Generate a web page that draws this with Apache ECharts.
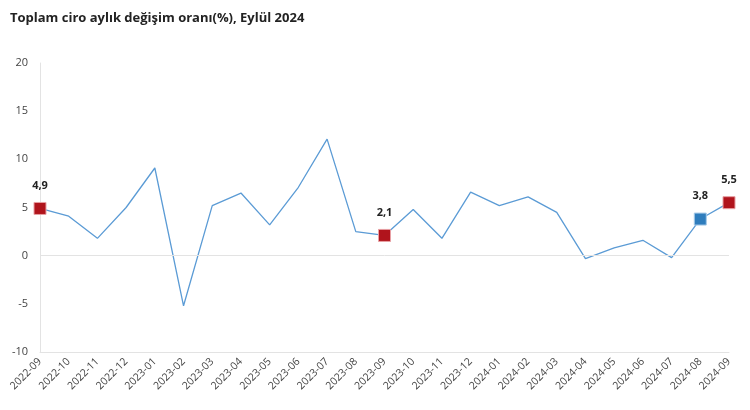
<!DOCTYPE html>
<html><head><meta charset="utf-8">
<script src="https://cdn.jsdelivr.net/npm/echarts@6/dist/echarts.min.js"></script>
<style>html,body{margin:0;padding:0;background:#fff}#c{width:750px;height:410px}</style>
</head><body><div id="c"></div>
<script>
const categories = ["2022-09","2022-10","2022-11","2022-12","2023-01","2023-02","2023-03","2023-04","2023-05","2023-06","2023-07","2023-08","2023-09","2023-10","2023-11","2023-12","2024-01","2024-02","2024-03","2024-04","2024-05","2024-06","2024-07","2024-08","2024-09"];
const values = [4.9,4.1,1.8,5.0,9.1,-5.2,5.2,6.5,3.2,7.1,12.1,2.5,2.1,4.8,1.8,6.6,5.2,6.1,4.5,-0.3,0.8,1.6,-0.2,3.8,5.5];
const redIdx = [0,12,24];
const blueIdx = [23];
const yTicks = [-10,-5,0,5,10,15,20];

const RED = '#b0141c', BLUE = '#2f7dbd';
const fmt = v => String(v).replace('.', ',');
const data = values.map((v,i) => {
  const isRed = redIdx.includes(i), isBlue = blueIdx.includes(i);
  if (!isRed && !isBlue) return {value: v, symbol: 'none'};
  return {
    value: v, symbol: 'rect', symbolSize: 12,
    itemStyle: {color: isRed ? RED : BLUE, borderColor: isRed ? '#e8a0a4' : '#a8cbe8', borderWidth: 1},
    label: {show: true, position: 'top', distance: 11, formatter: p => fmt(p.value),
      color: '#222', fontWeight: 'bold', fontSize: 11, fontFamily: 'Open Sans'}
  };
});

const chart = echarts.init(document.getElementById('c'), null, {renderer: 'canvas'});
chart.setOption({
  animation: false,
  title: {text: 'Toplam ciro aylık değişim oranı(%), Eylül 2024', left: 5, top: 7,
    textStyle: {fontSize: 13, fontWeight: 'bold', color: '#222', fontFamily: 'Open Sans'}},
  grid: {left: 40, right: 21, top: 63, bottom: 58},
  xAxis: {type: 'category', data: categories, boundaryGap: false,
    axisLine: {onZero: false, lineStyle: {color: '#e3e3e3'}},
    axisTick: {show: false},
    axisLabel: {rotate: 45, color: '#444', fontSize: 10.5, fontFamily: 'Open Sans', interval: 0, margin: 8}},
  yAxis: {type: 'value', min: yTicks[0], max: yTicks[yTicks.length-1], interval: 5,
    axisLine: {show: true, lineStyle: {color: '#e3e3e3'}},
    axisTick: {show: false},
    splitLine: {show: false},
    axisLabel: {color: '#444', fontSize: 11, fontFamily: 'Open Sans', margin: 12}},
  series: [{
    type: 'line', data: data, showSymbol: true,
    lineStyle: {color: '#5b9bd5', width: 1.3},
    itemStyle: {color: '#5b9bd5'},
    markLine: {silent: true, symbol: 'none', label: {show: false},
      lineStyle: {color: '#e3e3e3', type: 'solid', width: 1}, data: [{yAxis: 0}]}
  }]
});
</script></body></html>
